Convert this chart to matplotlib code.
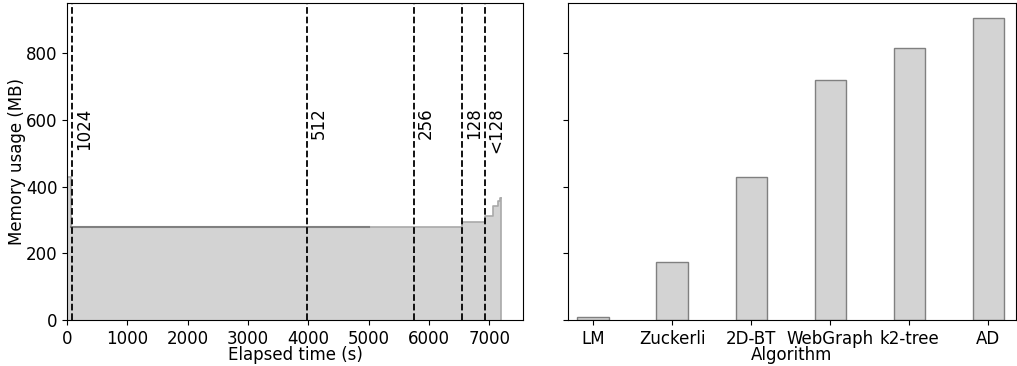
import matplotlib
matplotlib.use("Agg")
import matplotlib.pyplot as plt

plt.rcParams['font.size'] = 12

# memory trace (step, post)
time_s = [0, 60, 5000, 6550, 6930, 7060, 7150, 7175, 7200]
mem_mb = [430, 280, 280, 295, 312, 342, 356, 365, 365]

# phase markers
phase_t = [83, 3980, 5750, 6550, 6930]
phase_lbl = ['1024', '512', '256', '128', '<128']

# peak memory per algorithm
algos = ['LM', 'Zuckerli', '2D-BT', 'WebGraph', 'k2-tree', 'AD']
peak_mb = [8, 175, 428, 720, 815, 906]

fig = plt.figure(figsize=(10.17, 3.66), dpi=100)
ax1 = fig.add_axes([67/1017, 46/366, 456/1017, 317/366])
ax2 = fig.add_axes([568/1017, 46/366, 448/1017, 317/366], sharey=ax1)

ax1.fill_between(time_s, mem_mb, step='post', color='lightgray', linewidth=0)
ax1.step(time_s, mem_mb, where='post', color='#a9a9a9', linewidth=1.2)
ax1.plot([time_s[1], time_s[2]], [mem_mb[1], mem_mb[2]], color='#808080', linewidth=1.5)
ax1.plot([time_s[-1], time_s[-1]], [0, mem_mb[-1]], color='#a9a9a9', linewidth=1.2)

for t, lbl in zip(phase_t, phase_lbl):
    ax1.axvline(t, color='black', linestyle='--', linewidth=1.3)
    ax1.text(t + 45, 637, lbl, rotation=90, ha='left', va='top')

ax1.set_xlim(0, 7560)
ax1.set_ylim(0, 950)
ax1.set_xlabel('Elapsed time (s)', labelpad=-1)
ax1.set_ylabel('Memory usage (MB)', labelpad=0)
ax1.set_xticks(range(0, 7001, 1000))
ax1.set_yticks(range(0, 801, 200))

xpos = list(range(len(algos)))
ax2.bar(xpos, peak_mb, width=0.4, color='lightgray', edgecolor='gray', linewidth=1)
ax2.set_xticks(xpos)
ax2.set_xticklabels(algos)
ax2.set_xlim(-0.32, 5.35)
ax2.set_xlabel('Algorithm', labelpad=-1)
ax2.tick_params(axis='y', labelleft=False)

fig.savefig('out.png', dpi=100)
